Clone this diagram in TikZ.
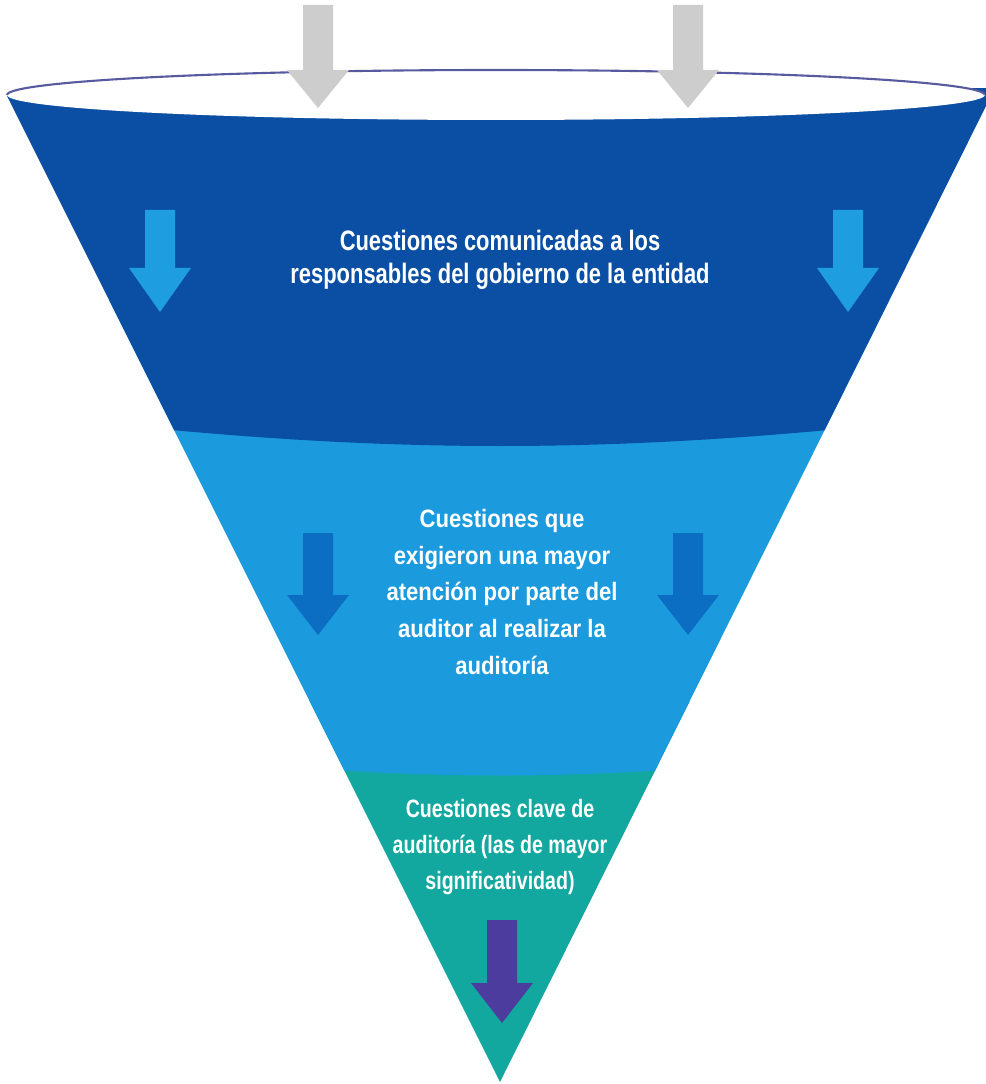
\documentclass[tikz,border=0pt]{standalone}
\usepackage{fontspec}
\newfontfamily\narrowfont{Liberation Sans}[FakeStretch=0.78]
\newfontfamily\widefont{Liberation Sans}[FakeStretch=0.88]
\definecolor{darkband}{RGB}{10,79,163}
\definecolor{lightband}{RGB}{27,155,222}
\definecolor{tealband}{RGB}{18,168,160}
\definecolor{rim}{RGB}{88,90,160}
\definecolor{greyarrow}{RGB}{205,205,205}
\definecolor{skyarrow}{RGB}{30,158,224}
\definecolor{royalarrow}{RGB}{12,110,194}
\definecolor{violetarrow}{RGB}{75,60,158}
\tikzset{funneltext/.style={text=white, align=center, inner sep=0pt}}

\begin{document}
\begin{tikzpicture}[x=0.02cm, y=-0.02cm]
        \useasboundingbox (0,0) rectangle (985,1084);
        \begin{scope}
            \clip (7,96) -- (995,88) -- (500,1082) -- cycle;
            \fill[tealband] (0,700) rectangle (1000,1100);
            \fill[lightband] (0,300) -- (1000,300) -- (1000,768) -- (700,768) .. controls (550,778) and (450,778) .. (300,768) -- (0,768) -- cycle;
            \fill[darkband] (0,0) -- (1000,0) -- (1000,428) -- (850,428) .. controls (600,452) and (400,452) .. (150,428) -- (0,428) -- cycle;
        \end{scope}
        \fill[white] (496,95) ellipse [x radius=9.78cm, y radius=0.5cm];
        \draw[rim, line width=1.2pt] (7,95) arc [start angle=180, end angle=0, x radius=9.78cm, y radius=0.5cm];
        \foreach \xa/\ya/\yb/\yc/\col in {318/5/70/108/greyarrow, 688/5/70/108/greyarrow,
                160/210/268/312/skyarrow, 848/210/268/312/skyarrow,
                318/533/595/635/royalarrow, 688/533/595/635/royalarrow,
                502/920/983/1023/violetarrow}
            \fill[\col] (\xa-15,\ya) -- (\xa+15,\ya) -- (\xa+15,\yb) -- (\xa+31,\yb) -- (\xa,\yc) -- (\xa-31,\yb) -- (\xa-15,\yb) -- cycle;
        \node[funneltext, font=\narrowfont\bfseries\fontsize{16}{19}\selectfont] (topnote) at (500,260)
            {Cuestiones comunicadas a los\\responsables del gobierno de la entidad};
        \node[funneltext, font=\widefont\bfseries\fontsize{14.3}{20.8}\selectfont] (midnote) at (502,592)
            {Cuestiones que\\exigieron una mayor\\atención por parte del\\auditor al realizar la\\auditoría};
        \node[funneltext, font=\narrowfont\bfseries\fontsize{14.3}{20.5}\selectfont] (keynote) at (500,847)
            {Cuestiones clave de\\auditoría (las de mayor\\significatividad)};
    \end{tikzpicture}
\end{document}
